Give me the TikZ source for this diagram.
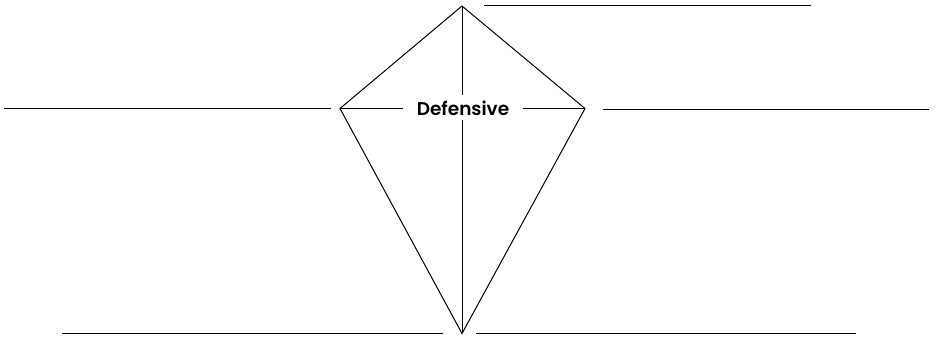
\documentclass[tikz,border=0pt]{standalone}
\usepackage{fontspec}
\newfontfamily\labelfont{Poppins}[UprightFont=* SemiBold]
\begin{document}
\begin{tikzpicture}[x=1pt,y=-1pt,
  ln/.style={line width=1pt,black},
  lbl/.style={fill=white,inner sep=0pt,minimum width=120pt,minimum height=25pt,font=\labelfont\fontsize{18.5}{22}\selectfont}]
\useasboundingbox (0,0) rectangle (938,339);
\coordinate (T) at (462,6);
\coordinate (L) at (340,108.5);
\coordinate (R) at (585,108.5);
\coordinate (B) at (462,333.5);
\draw[ln] (T) -- (L) -- (B) -- (R) -- cycle;
\draw[ln] (T) -- (B);
\draw[ln] (L) -- (R);
\node[lbl] (def) at (463,108) {Defensive};
% answer lines
\coordinate (a1) at (484,6); \coordinate (a2) at (811,6);
\coordinate (b1) at (4,108.5); \coordinate (b2) at (331,108.5);
\coordinate (c1) at (603,109.5); \coordinate (c2) at (929,109.5);
\coordinate (d1) at (62,333.5); \coordinate (d2) at (443,333.5);
\coordinate (e1) at (476,334); \coordinate (e2) at (856,334);
\draw[ln] (a1) -- (a2);
\draw[ln] (b1) -- (b2);
\draw[ln] (c1) -- (c2);
\draw[ln] (d1) -- (d2);
\draw[ln] (e1) -- (e2);
\end{tikzpicture}
\end{document}
